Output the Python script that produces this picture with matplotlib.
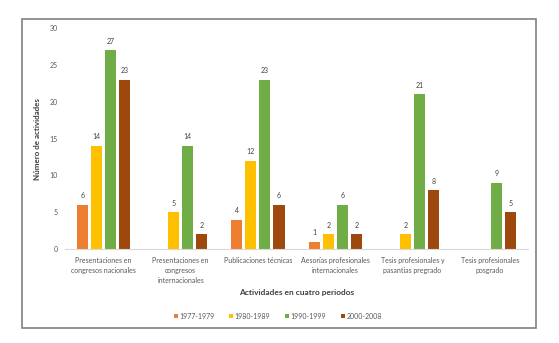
import numpy as np
import matplotlib
matplotlib.use("Agg")
import matplotlib.pyplot as plt
from matplotlib.patches import Rectangle

categories = [
    "Presentaciones en\ncongresos nacionales",
    "Presentaciones en\ncongresos\ninternacionales",
    "Publicaciones técnicas",
    "Aesorías profesionales\ninternacionales",
    "Tesis profesionales y\npasantias pregrado",
    "Tesis profesionales\nposgrado",
]
periods = ["1977-1979", "1980-1989", "1990-1999", "2000-2008"]
v_1977_1979 = [6, None, 4, 1, None, None]
v_1980_1989 = [14, 5, 12, 2, 2, None]
v_1990_1999 = [27, 14, 23, 6, 21, 9]
v_2000_2008 = [23, 2, 6, 2, 8, 5]
series = [v_1977_1979, v_1980_1989, v_1990_1999, v_2000_2008]
colors = ["#ED7D31", "#FFC000", "#70AD47", "#9E480E"]

plt.rcParams["font.family"] = ["Lato", "DejaVu Sans"]
text_col = "#595959"
small = 5.0

fig = plt.figure(figsize=(5.59, 3.43), dpi=100)
ax = fig.add_axes([0.116, 0.274, 0.829, 0.644])

x = np.arange(len(categories))
step = 0.182
width = 0.143
for i, (vals, col, lab) in enumerate(zip(series, colors, periods)):
    xs = [xi + (i - 1.5) * step for xi, v in zip(x, vals) if v is not None]
    ys = [v for v in vals if v is not None]
    bars = ax.bar(xs, ys, width=width, color=col, label=lab)
    ax.bar_label(bars, padding=4, fontsize=small, color="#404040")

ax.set_xlim(-0.5, len(categories) - 0.5)
ax.set_ylim(0, 30)
ax.set_yticks(range(0, 31, 5))
ax.set_xticks(x)
ax.set_xticklabels(categories, fontsize=small, color=text_col, linespacing=1.45)
ax.tick_params(axis="y", labelsize=small, colors=text_col, length=0, pad=5)
ax.tick_params(axis="x", length=0, pad=6)
for s in ["top", "right", "left"]:
    ax.spines[s].set_visible(False)
ax.spines["bottom"].set_color("#D9D9D9")

ax.set_ylabel("Número de actividades", fontsize=5.8, fontweight="bold",
              color="#404040", labelpad=6)
fig.text(0.53, 0.148, "Actividades en cuatro periodos", ha="center", va="center",
         fontsize=6, fontweight="bold", color="#404040")

fig.legend(loc="center", bbox_to_anchor=(0.497, 0.078), ncol=4, frameon=False,
           fontsize=small, handlelength=0.55, handleheight=0.55, handletextpad=0.25,
           columnspacing=2.1, labelcolor=text_col)

# outer border like the source screenshot
fig.patches.append(Rectangle((22 / 559, 1 - 328 / 343), (536 - 22) / 559,
                             (328 - 19) / 343, transform=fig.transFigure,
                             fill=False, edgecolor="#808080", linewidth=1.2))

fig.savefig("out.png", dpi=100)
